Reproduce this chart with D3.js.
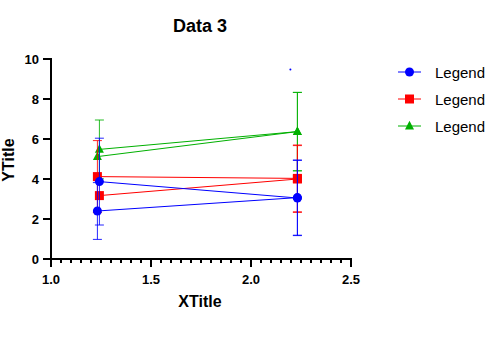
<!DOCTYPE html>
<html>
<head>
<meta charset="utf-8">
<script src="https://cdn.jsdelivr.net/npm/d3@7"></script>
<style>
  html, body { margin: 0; padding: 0; background: #fff; }
  svg { display: block; font-family: "Liberation Sans", Arial, sans-serif; }
</style>
</head>
<body>
<svg id="chart" width="494" height="339"></svg>
<script>
// Chart text
const chartTitle = "Data 3";
const xTitle = "XTitle";
const yTitle = "YTitle";
const legendLabels = ["Legend", "Legend", "Legend"];
const seriesColors = ["#0000ff", "#ff0000", "#00b000"];
const seriesShapes = ["circle", "square", "triangle"];

// Axis ticks
const xTickValues = [1.0, 1.5, 2.0, 2.5];
const xTickLabels = ["1.0", "1.5", "2.0", "2.5"];
const xMinorStep = 0.05;
const yTickValues = [0, 2, 4, 6, 8, 10];
const yTickLabels = ["0", "2", "4", "6", "8", "10"];

// Two replicate lines per series: x, mean, error (± SD)
const blueA_x = [1.232, 2.232], blueA_y = [2.40, 3.07], blueA_err = [1.42, 1.88];
const blueB_x = [1.242, 2.232], blueB_y = [3.87, 3.05], blueB_err = [2.17, 1.88];
const redA_x  = [1.232, 2.232], redA_y  = [4.12, 4.03], redA_err  = [1.80, 1.67];
const redB_x  = [1.242, 2.232], redB_y  = [3.17, 4.00], redB_err  = [0.00, 1.67];
const greenA_x = [1.242, 2.232], greenA_y = [5.48, 6.37], greenA_err = [1.47, 1.96];
const greenB_x = [1.232, 2.232], greenB_y = [5.12, 6.37], greenB_err = [0.00, 1.96];

// A lone extra point of the first series
const extra_x = [2.197], extra_y = [9.48];

const lines = [
  { s: 2, x: greenA_x, y: greenA_y, e: greenA_err },
  { s: 2, x: greenB_x, y: greenB_y, e: greenB_err },
  { s: 1, x: redA_x, y: redA_y, e: redA_err },
  { s: 1, x: redB_x, y: redB_y, e: redB_err },
  { s: 0, x: blueA_x, y: blueA_y, e: blueA_err },
  { s: 0, x: blueB_x, y: blueB_y, e: blueB_err }
];

const svg = d3.select("#chart");
const x = d3.scaleLinear().domain([1.0, 2.5]).range([51, 351]);
const y = d3.scaleLinear().domain([0, 10]).range([259, 59]);

// Title
svg.append("text").attr("x", 200).attr("y", 32).attr("text-anchor", "middle")
  .attr("font-size", 18).attr("font-weight", "bold").text(chartTitle);

// Marker drawing
function marker(g, shape, cx, cy, color, size) {
  const r = size / 2;
  if (shape === "circle") {
    g.append("circle").attr("cx", cx).attr("cy", cy).attr("r", r).attr("fill", color);
  } else if (shape === "square") {
    g.append("rect").attr("x", cx - r).attr("y", cy - r).attr("width", size).attr("height", size).attr("fill", color);
  } else {
    const h = size * 0.95;
    g.append("path")
      .attr("d", `M${cx},${cy - h * 0.6}L${cx + r},${cy + h * 0.4}L${cx - r},${cy + h * 0.4}Z`)
      .attr("fill", color);
  }
}

const plot = svg.append("g");
const lineGen = d3.line().x(d => x(d[0])).y(d => y(d[1]));

lines.forEach(L => {
  const color = seriesColors[L.s];
  const g = plot.append("g");
  const pts = L.x.map((v, i) => [v, L.y[i], L.e[i]]);
  // error bars
  pts.forEach(p => {
    if (p[2] > 0) {
      const px = x(p[0]);
      g.append("line").attr("x1", px).attr("x2", px)
        .attr("y1", y(p[1] - p[2])).attr("y2", y(p[1] + p[2]))
        .attr("stroke", color).attr("stroke-width", 1).attr("stroke-opacity", 0.85);
      [p[1] - p[2], p[1] + p[2]].forEach(v => {
        g.append("line").attr("x1", px - 4.5).attr("x2", px + 4.5)
          .attr("y1", y(v)).attr("y2", y(v))
          .attr("stroke", color).attr("stroke-width", 1).attr("stroke-opacity", 0.85);
      });
    }
  });
  g.append("path").datum(pts).attr("d", lineGen).attr("fill", "none")
    .attr("stroke", color).attr("stroke-width", 1);
  pts.forEach(p => marker(g, seriesShapes[L.s], x(p[0]), y(p[1]), color, 9));
});

// extra point
extra_x.forEach((v, i) => {
  plot.append("circle").attr("cx", x(v)).attr("cy", y(extra_y[i])).attr("r", 1)
    .attr("fill", seriesColors[0]);
});

// Axes
const axes = svg.append("g").attr("stroke", "#000").attr("stroke-width", 2);
axes.append("line").attr("x1", x(1.0)).attr("x2", x(2.5) + 1).attr("y1", y(0)).attr("y2", y(0));
axes.append("line").attr("x1", x(1.0)).attr("x2", x(1.0)).attr("y1", y(0) + 1).attr("y2", y(10) - 1);

// X ticks: minors and majors
d3.range(1.0, 2.5 + 1e-9, xMinorStep).forEach(v => {
  const major = xTickValues.some(t => Math.abs(t - v) < 1e-6);
  axes.append("line").attr("x1", x(v)).attr("x2", x(v))
    .attr("y1", y(0)).attr("y2", y(0) + (major ? 8 : 4));
});
// Y ticks
yTickValues.forEach(v => {
  axes.append("line").attr("x1", x(1.0) - 8).attr("x2", x(1.0))
    .attr("y1", y(v)).attr("y2", y(v));
});

// Tick labels
xTickValues.forEach((v, i) => {
  svg.append("text").attr("x", x(v)).attr("y", 284).attr("text-anchor", "middle")
    .attr("font-size", 13).attr("font-weight", "bold").text(xTickLabels[i]);
});
yTickValues.forEach((v, i) => {
  svg.append("text").attr("x", 39).attr("y", y(v) + 4.5).attr("text-anchor", "end")
    .attr("font-size", 13).attr("font-weight", "bold").text(yTickLabels[i]);
});

// Axis titles
svg.append("text").attr("x", 200).attr("y", 307).attr("text-anchor", "middle")
  .attr("font-size", 16).attr("font-weight", "bold").text(xTitle);
svg.append("text").attr("transform", "translate(13.5,160) rotate(-90)")
  .attr("text-anchor", "middle").attr("font-size", 16).attr("font-weight", "bold").text(yTitle);

// Legend
const legend = svg.append("g");
legendLabels.forEach((lab, i) => {
  const ly = 72 + i * 27;
  const color = seriesColors[i];
  legend.append("line").attr("x1", 398).attr("x2", 421).attr("y1", ly).attr("y2", ly)
    .attr("stroke", color).attr("stroke-width", 1);
  marker(legend, seriesShapes[i], 409.5, ly, color, 9);
  legend.append("text").attr("x", 435).attr("y", ly + 5.5).attr("font-size", 15)
    .attr("fill", "#000").text(lab);
});
</script>
</body>
</html>
